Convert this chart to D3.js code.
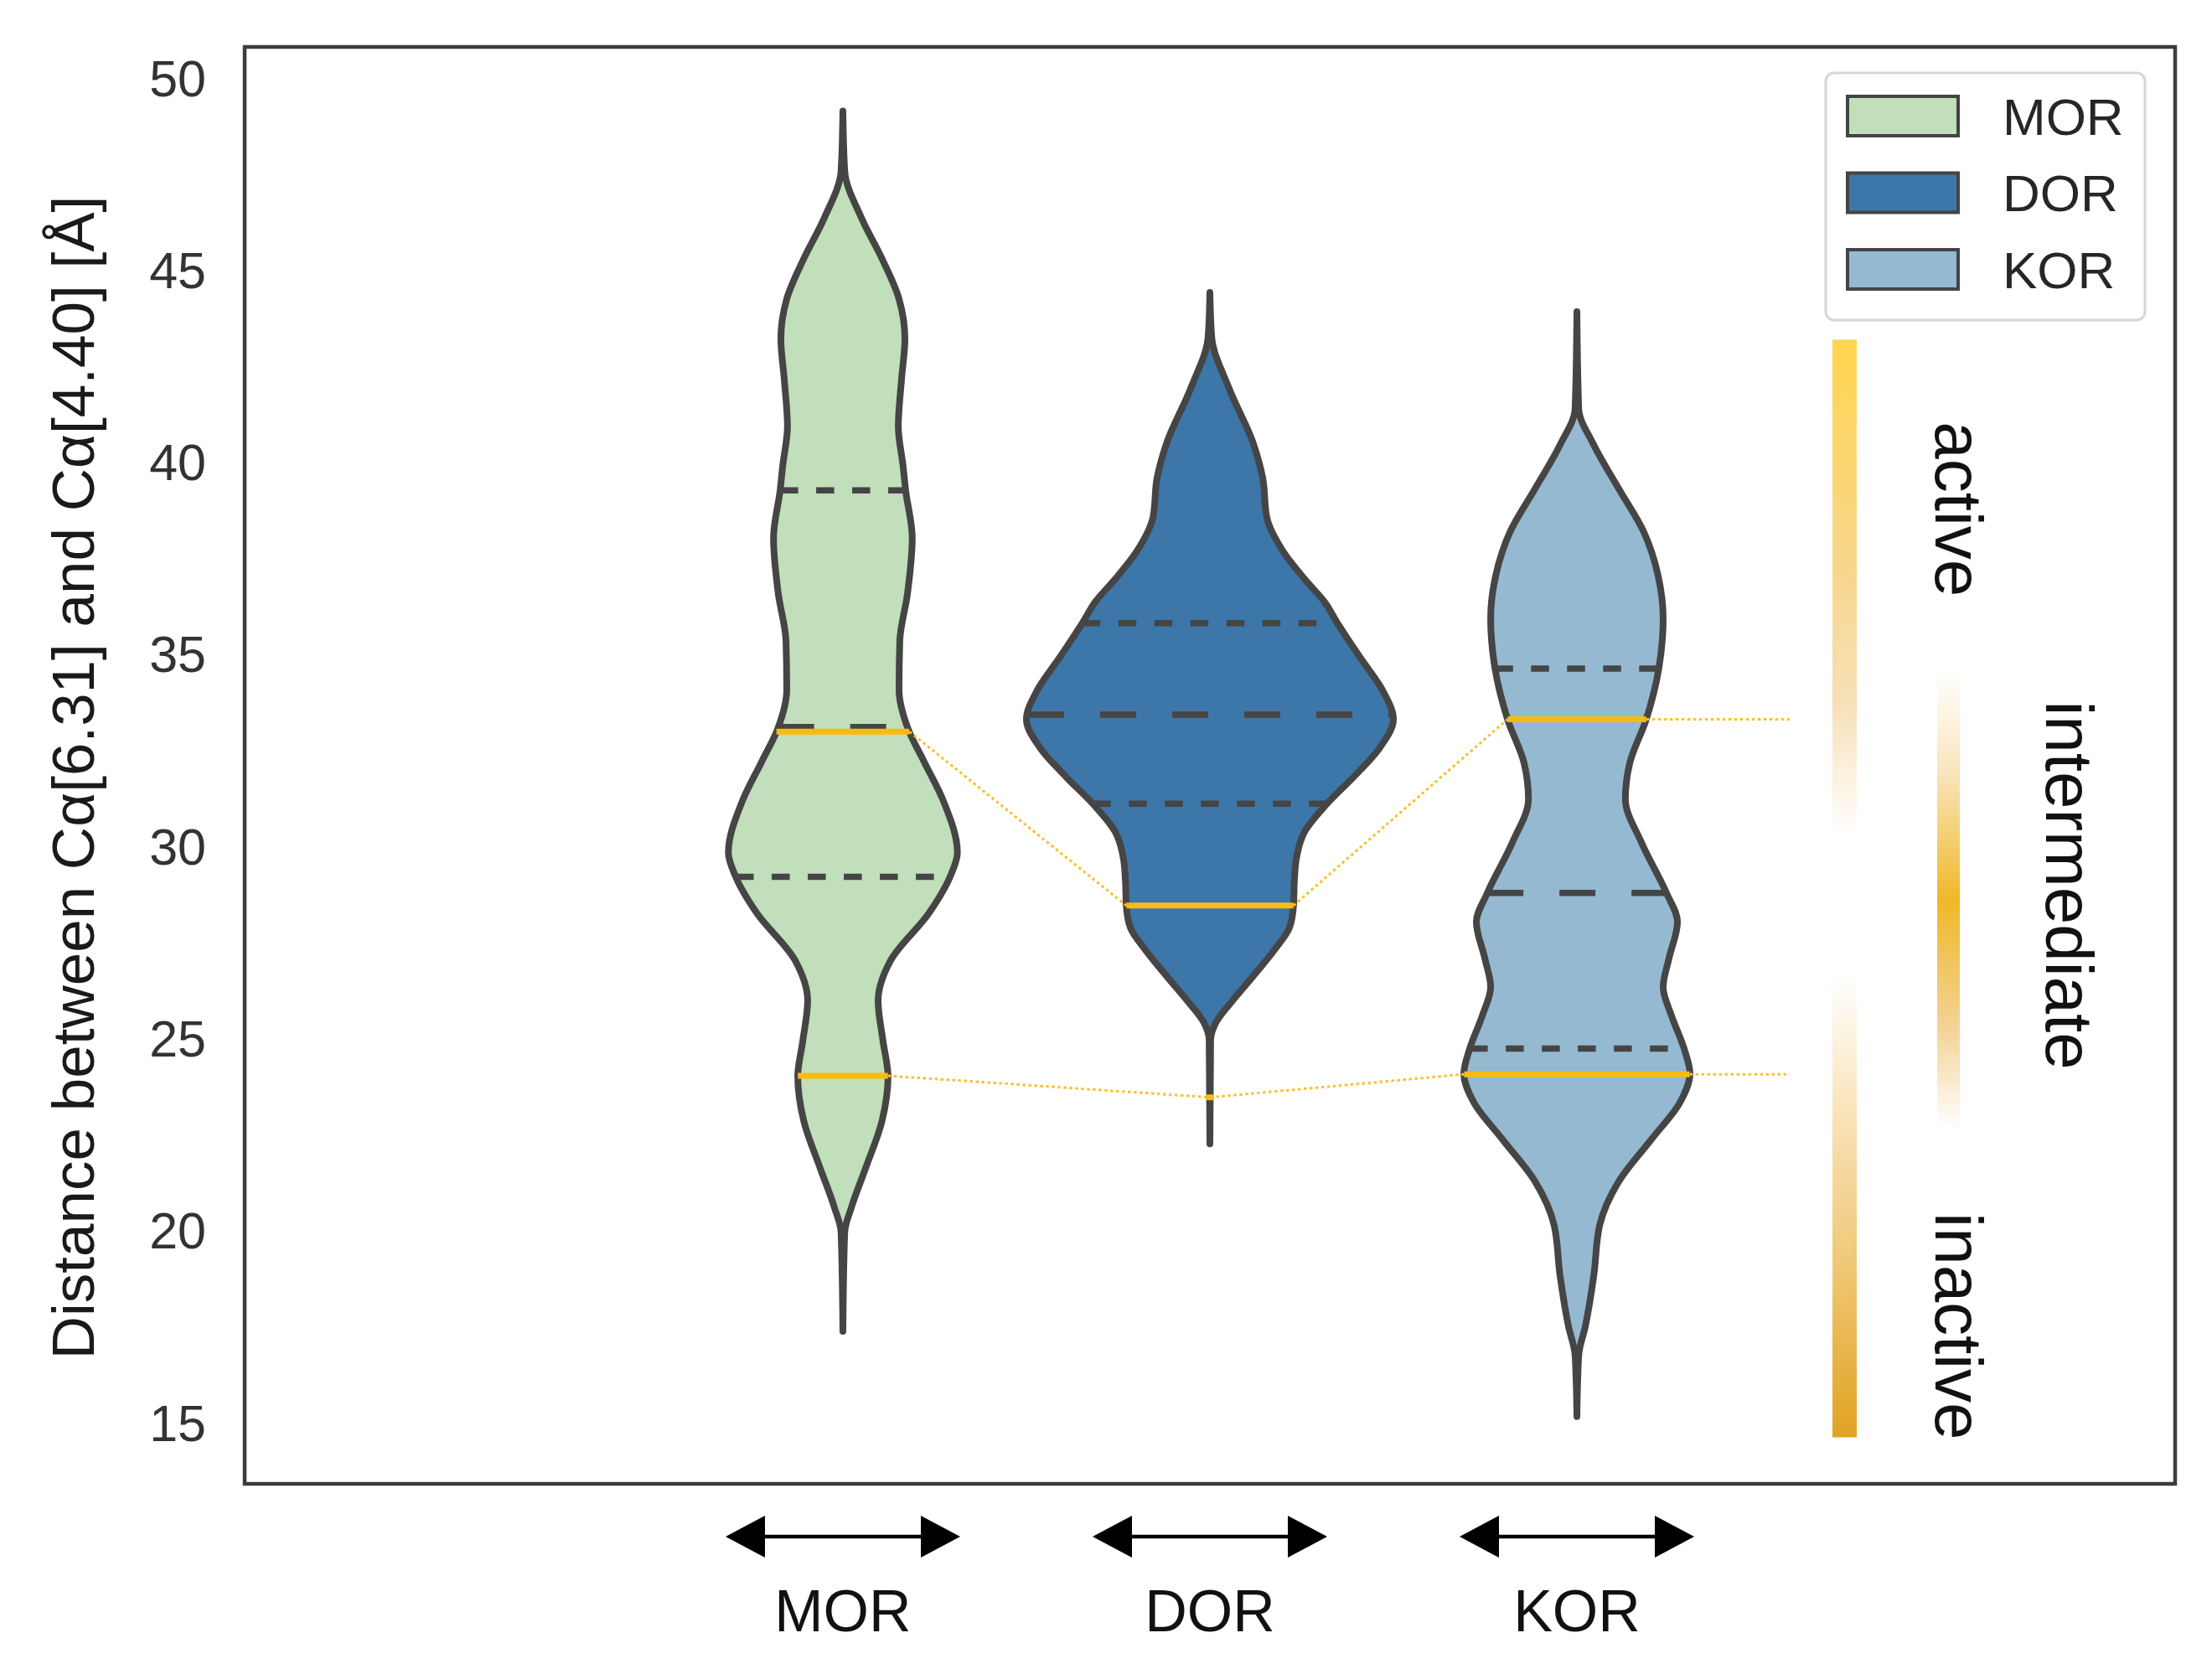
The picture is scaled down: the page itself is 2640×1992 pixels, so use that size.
<!DOCTYPE html>
<html lang="en">
<head>
<meta charset="UTF-8">
<title>violin</title>
<script src="https://cdn.jsdelivr.net/npm/d3@7"></script>
<style>
    body { margin: 0; background: #fff; }
    text { font-family: "Liberation Sans", Arial, sans-serif; }
</style>
</head>
<body>
<script>
const categories = ['MOR', 'DOR', 'KOR'];
const fills = ['#c1dfba', '#3d76a9', '#95b9d0'];

// violin outlines: [distance, half width in category units]
const morShape = [[49.13, 0], [47.57, 0.005], [46.32, 0.052], [45.28, 0.107], [44.24, 0.153], [43.2, 0.169],
    [42.17, 0.160], [40.92, 0.151], [39.89, 0.164], [39.26, 0.171], [38.02, 0.189], [36.57, 0.176],
    [35.33, 0.155], [34.07, 0.153], [33.04, 0.178], [32.2, 0.221], [31.17, 0.274], [29.83, 0.312],
    [29.2, 0.292], [28.26, 0.235], [27.02, 0.130], [25.98, 0.096], [24.94, 0.109], [24.0, 0.123],
    [22.86, 0.107], [21.62, 0.062], [20.59, 0.023], [19.95, 0.005], [17.37, 0]];
const dorShape = [[44.41, 0], [43.24, 0.005], [41.92, 0.052], [40.46, 0.119], [39.58, 0.144], [38.56, 0.155],
    [37.69, 0.198], [36.95, 0.258], [36.36, 0.312], [35.78, 0.349], [34.9, 0.410], [34.03, 0.472],
    [33.3, 0.500], [32.56, 0.463], [31.83, 0.395], [31.1, 0.319], [30.37, 0.258], [29.64, 0.235],
    [29.06, 0.230], [28.47, 0.228], [27.88, 0.217], [27.3, 0.176], [26.57, 0.114], [25.98, 0.062],
    [25.4, 0.016], [24.96, 0.002], [22.25, 0]];
const korShape = [[43.91, 0], [41.38, 0.005], [40.44, 0.046], [39.3, 0.114], [38.18, 0.182], [37.05, 0.221],
    [35.92, 0.235], [34.61, 0.223], [33.3, 0.189], [32.16, 0.144], [31.22, 0.132], [30.09, 0.176],
    [28.78, 0.244], [28.03, 0.274], [27.08, 0.251], [26.33, 0.235], [25.58, 0.258], [24.73, 0.292],
    [24.08, 0.308], [23.33, 0.281], [22.39, 0.205], [21.27, 0.114], [20.13, 0.062], [18.82, 0.046],
    [17.5, 0.023], [16.75, 0.005], [15.15, 0]];
const shapes = [morShape, dorShape, korShape];

const q1 = [29.2, 31.1, 24.73];
const medians = [33.1, 33.42, 28.78];
const q3 = [39.26, 35.8, 34.62];

// yellow state lines
const upperState = [32.98, 28.45, 33.3];
const lowerState = [24.02, 23.46, 24.06];

const yTicks = [15, 20, 25, 30, 35, 40, 45, 50];
const yTitle = 'Distance between Cα[6.31] and Cα[4.40] [Å]';
const stateLabels = ['active', 'intermediate', 'inactive'];
const stateLabelValues = [38.77, 28.98, 17.5];

const width = 2640, height = 1992;
const frame = {left: 292, top: 56, right: 2596, bottom: 1771};

const svg = d3.select('body').append('svg')
    .attr('width', width)
    .attr('height', height);

const x = d3.scaleLinear().domain([-1.63, 3.63]).range([frame.left, frame.right]);
const y = d3.scaleLinear().domain([13.4, 50.8]).range([frame.bottom, frame.top]);

function halfWidth(shape, v) {
    for (let k = 0; k < shape.length - 1; k++) {
        const [v0, w0] = shape[k], [v1, w1] = shape[k + 1];
        if (v <= v0 && v >= v1) return w0 + (w1 - w0) * (v - v0) / (v1 - v0);
    }
    return 0;
}

const defs = svg.append('defs');
const gradActive = defs.append('linearGradient').attr('id', 'gradActive')
    .attr('x1', 0).attr('y1', 0).attr('x2', 0).attr('y2', 1);
[[0, '#ffd550'], [0.2, '#f8d68a'], [0.33, '#f6e0b6'], [0.45, '#ffffff'], [0.58, '#ffffff'],
 [0.7, '#f9e4bb'], [0.85, '#efc672'], [1, '#e0a322']].forEach(s => {
    gradActive.append('stop').attr('offset', s[0]).attr('stop-color', s[1]);
});
const gradMid = defs.append('linearGradient').attr('id', 'gradMid')
    .attr('x1', 0).attr('y1', 0).attr('x2', 0).attr('y2', 1);
[[0, '#ffffff'], [0.22, '#f9e5bc'], [0.5, '#efb82a'], [0.78, '#f3d396'], [1, '#ffffff']].forEach(s => {
    gradMid.append('stop').attr('offset', s[0]).attr('stop-color', s[1]);
});

// frame
svg.append('rect')
    .attr('x', frame.left).attr('y', frame.top)
    .attr('width', frame.right - frame.left).attr('height', frame.bottom - frame.top)
    .attr('fill', 'none').attr('stroke', '#3c3c3c').attr('stroke-width', 4.5);

// y tick labels
svg.selectAll('.ytick').data(yTicks).enter().append('text')
    .attr('class', 'ytick')
    .attr('x', frame.left - 46)
    .attr('y', d => y(d))
    .attr('dy', '0.36em')
    .attr('text-anchor', 'end')
    .attr('font-size', 61)
    .attr('fill', '#333')
    .text(d => d);

svg.append('text')
    .attr('transform', 'translate(112,928) rotate(-90)')
    .attr('text-anchor', 'middle')
    .attr('font-size', 71)
    .attr('fill', '#1a1a1a')
    .text(yTitle);

// violins
shapes.forEach((shape, i) => {
    const area = d3.area()
        .curve(d3.curveMonotoneY)
        .y(d => y(d[0]))
        .x0(d => x(i - d[1]))
        .x1(d => x(i + d[1]));
    svg.append('path')
        .attr('d', area(shape))
        .attr('fill', fills[i])
        .attr('stroke', '#454545')
        .attr('stroke-width', 8)
        .attr('stroke-linejoin', 'round');

    [[q1[i], '21.5,21.5'], [q3[i], '21.5,21.5'], [medians[i], '43,43']].forEach(q => {
        const w = halfWidth(shape, q[0]);
        svg.append('line')
            .attr('x1', x(i - w)).attr('x2', x(i + w))
            .attr('y1', y(q[0])).attr('y2', y(q[0]))
            .attr('stroke', '#454545')
            .attr('stroke-width', 7.5)
            .attr('stroke-dasharray', q[1]);
    });
});

// dotted connectors between states
const stateEnd = 2.58;
[upperState, lowerState].forEach(state => {
    const pts = [];
    state.forEach((v, i) => {
        const w = halfWidth(shapes[i], v);
        pts.push([i - w, v], [i + w, v]);
    });
    pts.push([stateEnd, state[2]]);
    for (let k = 1; k < pts.length - 1; k += 2) {
        svg.append('line')
            .attr('x1', x(pts[k][0])).attr('y1', y(pts[k][1]))
            .attr('x2', x(pts[k + 1][0])).attr('y2', y(pts[k + 1][1]))
            .attr('stroke', '#f9c12e')
            .attr('stroke-width', 3)
            .attr('stroke-dasharray', '3.5,3.5');
    }
    state.forEach((v, i) => {
        const w = Math.max(halfWidth(shapes[i], v), 0.01);
        svg.append('line')
            .attr('x1', x(i - w)).attr('x2', x(i + w))
            .attr('y1', y(v)).attr('y2', y(v))
            .attr('stroke', '#f8bb12')
            .attr('stroke-width', 7);
    });
});

// legend
const legend = svg.append('g');
legend.append('rect')
    .attr('x', 2179).attr('y', 87).attr('width', 381).attr('height', 295).attr('rx', 10)
    .attr('fill', '#fff').attr('stroke', '#d6d6d6').attr('stroke-width', 3);
categories.forEach((c, i) => {
    legend.append('rect')
        .attr('x', 2205).attr('y', 115 + i * 91.5).attr('width', 132).attr('height', 47)
        .attr('fill', fills[i]).attr('stroke', '#444').attr('stroke-width', 4);
    legend.append('text')
        .attr('x', 2390).attr('y', 138.5 + i * 91.5).attr('dy', '0.36em')
        .attr('font-size', 62).attr('fill', '#262626')
        .text(c);
});

// state bars and labels
svg.append('rect')
    .attr('x', 2187).attr('width', 29)
    .attr('y', y(43.18)).attr('height', y(14.61) - y(43.18))
    .attr('fill', 'url(#gradActive)');
svg.append('rect')
    .attr('x', 2312).attr('width', 27)
    .attr('y', y(34.54)).attr('height', y(22.63) - y(34.54))
    .attr('fill', 'url(#gradMid)');
const labelX = [2310, 2442, 2310];
stateLabels.forEach((s, i) => {
    svg.append('text')
        .attr('transform', `translate(${labelX[i]},${y(stateLabelValues[i])}) rotate(90)`)
        .attr('text-anchor', 'middle')
        .attr('font-size', 80)
        .attr('fill', '#111')
        .text(s);
});

// double arrows under each category
const arrowY = 1834, half = 140, head = 47, headH = 25;
categories.forEach((c, i) => {
    const cx = x(i);
    svg.append('line')
        .attr('x1', cx - half + head).attr('x2', cx + half - head)
        .attr('y1', arrowY).attr('y2', arrowY)
        .attr('stroke', '#000').attr('stroke-width', 4.5);
    svg.append('path')
        .attr('d', `M${cx - half},${arrowY} L${cx - half + head},${arrowY - headH} L${cx - half + head},${arrowY + headH} Z`)
        .attr('fill', '#000');
    svg.append('path')
        .attr('d', `M${cx + half},${arrowY} L${cx + half - head},${arrowY - headH} L${cx + half - head},${arrowY + headH} Z`)
        .attr('fill', '#000');
    svg.append('text')
        .attr('x', cx).attr('y', 1947)
        .attr('text-anchor', 'middle')
        .attr('font-size', 70)
        .attr('fill', '#111')
        .text(c);
});
</script>
</body>
</html>
